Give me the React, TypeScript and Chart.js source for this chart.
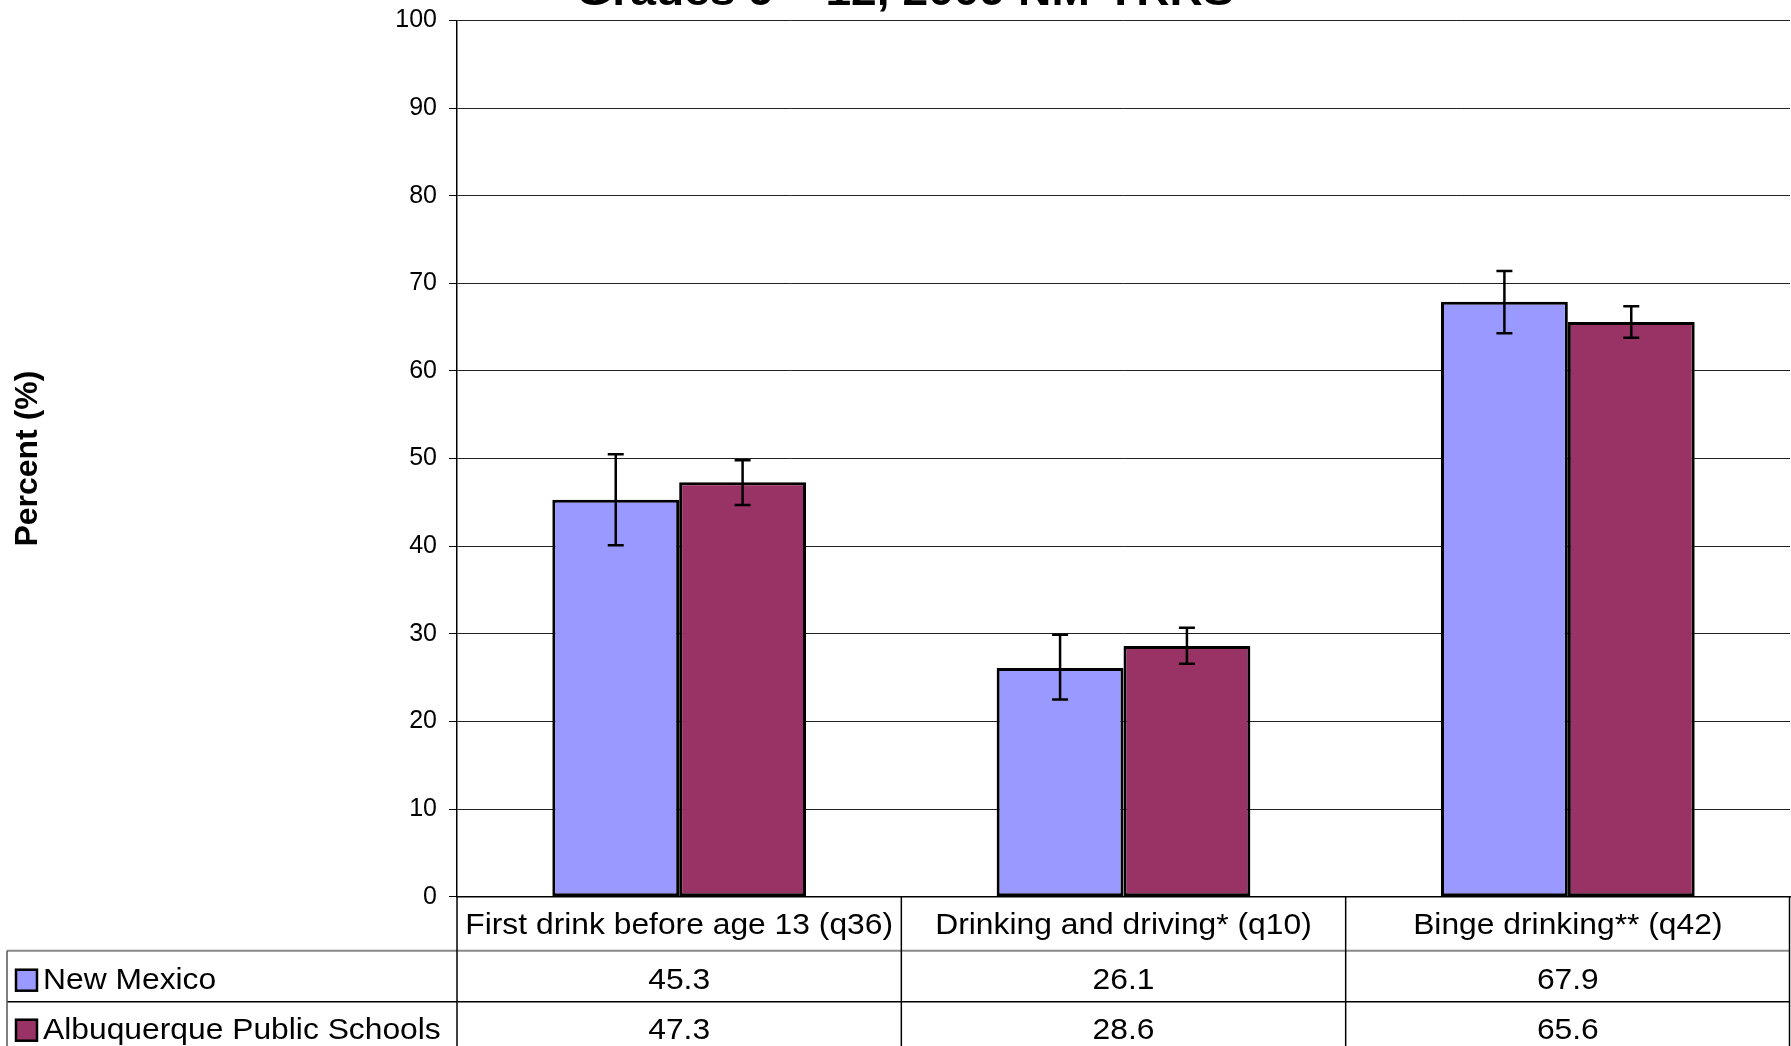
import React, { useEffect, useRef } from 'react';
import { Chart, registerables } from 'chart.js';

Chart.register(...registerables);

const categories = ['First drink before age 13 (q36)', 'Drinking and driving* (q10)', 'Binge drinking** (q42)'];
const seriesNames = ['New Mexico', 'Albuquerque Public Schools'];
const newMexico = [45.3, 26.1, 67.9];
const albuquerque = [47.3, 28.6, 65.6];
const newMexicoLow = [40.1, 22.5, 64.3];
const newMexicoHigh = [50.5, 29.9, 71.4];
const albuquerqueLow = [44.7, 26.6, 63.8];
const albuquerqueHigh = [49.8, 30.7, 67.4];
const valueLabels = [
  ['45.3', '26.1', '67.9'],
  ['47.3', '28.6', '65.6'],
];
const yMin = 0;
const yMax = 100;
const yStep = 10;
const chartTitle = 'Grades 9 – 12, 2009 NM-YRRS';
const yAxisTitle = 'Percent (%)';
const seriesColors = ['#9999FF', '#993366'];

const FAMILY = '"Liberation Sans", Arial, Helvetica, sans-serif';

function drawText(
  ctx: CanvasRenderingContext2D,
  text: string,
  x: number,
  y: number,
  align: CanvasTextAlign,
  font: string,
  sx: number,
  baseline: CanvasTextBaseline = 'middle'
) {
  ctx.save();
  ctx.font = font;
  ctx.fillStyle = '#000';
  ctx.textAlign = align;
  ctx.textBaseline = baseline;
  ctx.translate(x, y);
  ctx.scale(sx, 1);
  ctx.fillText(text, 0, 0);
  ctx.restore();
}

const errorBarPlugin = {
  id: 'errorBars',
  afterDatasetsDraw(chart: any) {
    const ctx: CanvasRenderingContext2D = chart.ctx;
    const yScale = chart.scales.y;
    const lows = [newMexicoLow, albuquerqueLow];
    const highs = [newMexicoHigh, albuquerqueHigh];
    ctx.save();
    ctx.strokeStyle = '#000';
    ctx.lineWidth = 2.5;
    for (let i = 0; i < 2; i++) {
      const meta = chart.getDatasetMeta(i);
      meta.data.forEach((bar: any, j: number) => {
        const x = bar.x;
        const yl = yScale.getPixelForValue(lows[i][j]);
        const yh = yScale.getPixelForValue(highs[i][j]);
        const cap = 8;
        ctx.beginPath();
        ctx.moveTo(x, yl);
        ctx.lineTo(x, yh);
        ctx.moveTo(x - cap, yl);
        ctx.lineTo(x + cap, yl);
        ctx.moveTo(x - cap, yh);
        ctx.lineTo(x + cap, yh);
        ctx.stroke();
      });
    }
    ctx.restore();
  },
};

const tablePlugin = {
  id: 'dataTable',
  afterDraw(chart: any) {
    const ctx: CanvasRenderingContext2D = chart.ctx;
    const area = chart.chartArea;
    const xScale = chart.scales.x;
    const n = categories.length;
    const colW = (area.right - area.left) / n;
    const top = area.bottom;
    const row1 = top + 54;
    const row2 = row1 + 51;
    const bottom = chart.height;
    const tableLeft = 7;
    const tableRight = area.right - 0.5;

    ctx.save();
    ctx.lineWidth = 2;
    ctx.strokeStyle = '#8a8a8a';
    ctx.beginPath();
    ctx.moveTo(tableLeft, row1);
    ctx.lineTo(tableRight, row1);
    ctx.stroke();
    ctx.lineWidth = 1.5;
    ctx.strokeStyle = '#000';
    ctx.beginPath();
    ctx.moveTo(tableLeft, row2);
    ctx.lineTo(tableRight, row2);
    ctx.stroke();
    ctx.strokeStyle = '#555';
    ctx.lineWidth = 1.5;
    ctx.beginPath();
    ctx.moveTo(tableLeft, row1);
    ctx.lineTo(tableLeft, bottom);
    ctx.stroke();
    ctx.strokeStyle = '#000';
    ctx.lineWidth = 1.5;
    for (let j = 0; j <= n; j++) {
      const x = j === n ? tableRight : area.left + j * colW;
      ctx.beginPath();
      ctx.moveTo(x, top);
      ctx.lineTo(x, bottom);
      ctx.stroke();
    }
    ctx.restore();

    const font = `30px ${FAMILY}`;
    const sx = 1.06;
    const rowsY = [row1 + 30, row2 + 29];
    categories.forEach((c, j) => {
      const cx = xScale.getPixelForValue(j);
      drawText(ctx, c, cx, top + 29, 'center', font, sx);
      drawText(ctx, valueLabels[0][j], cx, rowsY[0], 'center', font, sx);
      drawText(ctx, valueLabels[1][j], cx, rowsY[1], 'center', font, sx);
    });

    seriesNames.forEach((name, i) => {
      const cy = rowsY[i];
      ctx.save();
      ctx.fillStyle = seriesColors[i];
      ctx.fillRect(16, cy - 11, 21, 21);
      ctx.strokeStyle = '#000';
      ctx.lineWidth = 2.5;
      ctx.strokeRect(16, cy - 11, 21, 21);
      ctx.restore();
      drawText(ctx, name, 43, cy, 'left', font, sx);
    });

    drawText(ctx, chartTitle, 905, 5, 'center', `bold 42px ${FAMILY}`, 1.1, 'alphabetic');
  },
};

export default function App() {
  const canvasRef = useRef<HTMLCanvasElement | null>(null);

  useEffect(() => {
    document.body.style.margin = '0';
    const canvas = canvasRef.current;
    if (!canvas) return;
    const chart = new Chart(canvas, {
      type: 'bar',
      data: {
        labels: categories,
        datasets: [
          {
            label: seriesNames[0],
            data: newMexico,
            backgroundColor: seriesColors[0],
            borderColor: '#000',
            borderWidth: 3,
            borderSkipped: false,
            categoryPercentage: 0.571,
            barPercentage: 1.0,
          },
          {
            label: seriesNames[1],
            data: albuquerque,
            backgroundColor: seriesColors[1],
            borderColor: '#000',
            borderWidth: 3,
            borderSkipped: false,
            categoryPercentage: 0.571,
            barPercentage: 1.0,
          },
        ],
      },
      options: {
        responsive: false,
        animation: false,
        devicePixelRatio: 1,
        layout: { padding: { top: 20.5, left: 0, right: 1, bottom: 0 } },
        plugins: {
          legend: { display: false },
          tooltip: { enabled: false },
          title: { display: false },
        },
        scales: {
          x: {
            grid: { display: false },
            ticks: { display: false },
            border: { display: true, color: '#000', width: 1.5 },
            afterFit: (s: any) => {
              s.height = 149.3;
              s.paddingLeft = 0;
              s.paddingRight = 0;
            },
          },
          y: {
            min: yMin,
            max: yMax,
            ticks: {
              stepSize: yStep,
              color: '#000',
              padding: 12,
              font: { size: 25, family: FAMILY },
            },
            grid: { color: '#222', lineWidth: 1, tickLength: 8, tickColor: '#000' },
            border: { color: '#000', width: 1.5 },
            title: {
              display: true,
              text: yAxisTitle,
              color: '#000',
              font: { size: 32, weight: 'bold', family: FAMILY },
              padding: { top: 9, bottom: 0 },
            },
            afterFit: (s: any) => {
              s.width = 457;
              s.paddingTop = 0;
              s.paddingBottom = 0;
            },
          },
        },
      },
      plugins: [errorBarPlugin, tablePlugin],
    });
    return () => chart.destroy();
  }, []);

  return (
    <div style={{ width: 1791, height: 1046 }}>
      <canvas ref={canvasRef} width={1791} height={1046} style={{ display: 'block' }} />
    </div>
  );
}
